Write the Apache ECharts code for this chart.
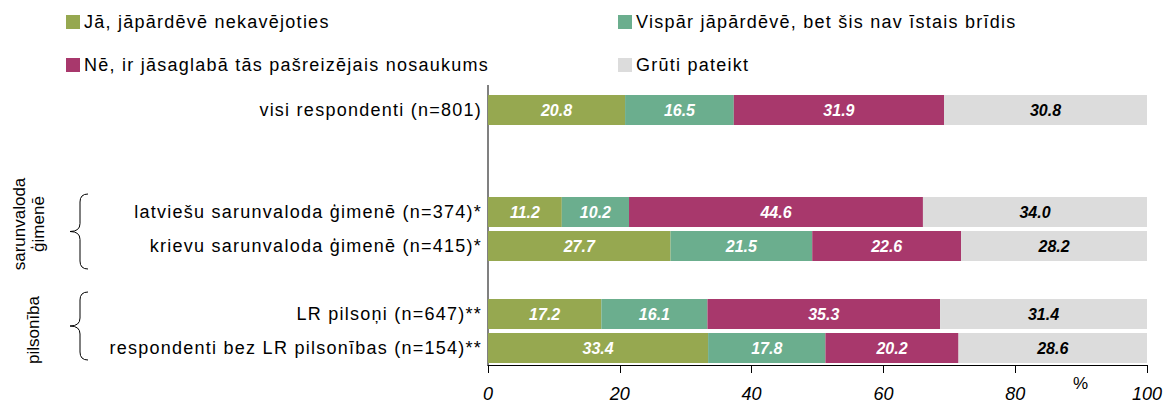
<!DOCTYPE html>
<html><head><meta charset="utf-8">
<script src="https://cdn.jsdelivr.net/npm/echarts@6/dist/echarts.min.js"></script>
<style>html,body{margin:0;padding:0;background:#fff}#c{width:1166px;height:405px}</style>
</head><body><div id="c"></div>
<script>
const categories = ['visi respondenti (n=801)', ' ', '  ', 'latviešu sarunvaloda ģimenē (n=374)*', 'krievu sarunvaloda ģimenē (n=415)*', '   ', 'LR pilsoņi (n=647)**', 'respondenti bez LR pilsonības (n=154)**'];
const seriesNames = ['Jā, jāpārdēvē nekavējoties', 'Vispār jāpārdēvē, bet šis nav īstais brīdis', 'Nē, ir jāsaglabā tās pašreizējais nosaukums', 'Grūti pateikt'];
const jaValues = [20.8, null, null, 11.2, 27.7, null, 17.2, 33.4];
const visparValues = [16.5, null, null, 10.2, 21.5, null, 16.1, 17.8];
const neValues = [31.9, null, null, 44.6, 22.6, null, 35.3, 20.2];
const grutiValues = [30.8, null, null, 34.0, 28.2, null, 31.4, 28.6];
const xTicks = [0, 20, 40, 60, 80, 100];
const groupLabels = ['sarunvaloda\nģimenē', 'pilsonība'];
const unitLabel = '%';
const colors = ['#96A850', '#6BAE8E', '#A8386C', '#DCDCDC'];
const labelColors = ['#fff', '#fff', '#fff', '#000'];
const allValues = [jaValues, visparValues, neValues, grutiValues];

const FONT = 'Liberation Sans, Arial, sans-serif';
const dom = document.getElementById('c');
const chart = echarts.init(dom, null, {renderer: 'svg'});

function brace(xr, xm, xt, y0, y1) {
  const ym = (y0 + y1) / 2, r = 8;
  const st = {stroke: '#000', lineWidth: 1, fill: null};
  return [
    {type: 'bezierCurve', shape: {x1: xr, y1: y0, x2: xm, y2: y0 + r, cpx1: xm, cpy1: y0}, style: st},
    {type: 'line', shape: {x1: xm, y1: y0 + r, x2: xm, y2: ym - r}, style: st},
    {type: 'bezierCurve', shape: {x1: xm, y1: ym - r, x2: xt, y2: ym, cpx1: xm, cpy1: ym}, style: st},
    {type: 'bezierCurve', shape: {x1: xt, y1: ym, x2: xm, y2: ym + r, cpx1: xm, cpy1: ym}, style: st},
    {type: 'line', shape: {x1: xm, y1: ym + r, x2: xm, y2: y1 - r}, style: st},
    {type: 'bezierCurve', shape: {x1: xm, y1: y1 - r, x2: xr, y2: y1, cpx1: xm, cpy1: y1}, style: st}
  ];
}

const legendPos = [[66, 13], [618, 13], [66, 56], [618, 56]];
const option = {
  animation: false,
  color: colors,
  grid: {left: 488, right: 19, top: 93, bottom: 40},
  legend: seriesNames.map((n, i) => ({
    data: [n], left: legendPos[i][0], top: legendPos[i][1], padding: 0,
    itemWidth: 14, itemHeight: 14, icon: 'rect',
    textStyle: {fontFamily: FONT, fontSize: 18, color: '#000', padding: [0, 0, 0, -1]}
  })),
  xAxis: {
    type: 'value', min: 0, max: 100, interval: 20,
    axisLine: {show: true, lineStyle: {color: '#000', width: 1}},
    axisTick: {show: true, length: 8, lineStyle: {color: '#000'}},
    axisLabel: {fontFamily: FONT, fontSize: 18, fontStyle: 'italic', color: '#000', margin: 20,
      formatter: v => xTicks.includes(v) ? String(v) : ''},
    splitLine: {show: false}
  },
  yAxis: {
    type: 'category', data: categories, inverse: true,
    axisLine: {show: true, lineStyle: {color: '#808080', width: 2}},
    axisTick: {show: false},
    axisLabel: {fontFamily: FONT, fontSize: 18, color: '#000', margin: 6}
  },
  series: seriesNames.map((n, i) => ({
    name: n, type: 'bar', stack: 'total', barWidth: 30,
    data: allValues[i],
    itemStyle: {color: colors[i]},
    label: {show: true, position: 'inside', fontFamily: FONT, fontSize: 16, fontWeight: 'bold', fontStyle: 'italic',
      color: labelColors[i], formatter: p => p.value == null ? '' : p.value.toFixed(1)}
  })),
  graphic: [
    {type: 'line', shape: {x1: 488, y1: 85, x2: 488, y2: 94}, style: {stroke: '#808080', lineWidth: 2}},
    {type: 'text', x: 1073, y: 375, style: {text: unitLabel, font: '17px ' + FONT, fill: '#000'}},
    {type: 'text', x: 29, y: 224, rotation: Math.PI / 2, style: {text: groupLabels[0], font: '17px ' + FONT, fill: '#000', textAlign: 'center', textVerticalAlign: 'middle', lineHeight: 19}},
    {type: 'text', x: 33, y: 330, rotation: Math.PI / 2, style: {text: groupLabels[1], font: '17px ' + FONT, fill: '#000', textAlign: 'center', textVerticalAlign: 'middle'}}
  ].concat(brace(88, 80, 70, 194, 269), brace(88, 80, 70, 292, 360))
};
chart.setOption(option);

const spaced = categories.concat(seriesNames);
function applySpacing() {
  dom.querySelectorAll('text').forEach(t => {
    const s = t.textContent.trim();
    if (s !== '' && spaced.includes(s)) t.setAttribute('letter-spacing', '1.25');
  });
}
applySpacing();
chart.on('finished', applySpacing);
</script></body></html>
